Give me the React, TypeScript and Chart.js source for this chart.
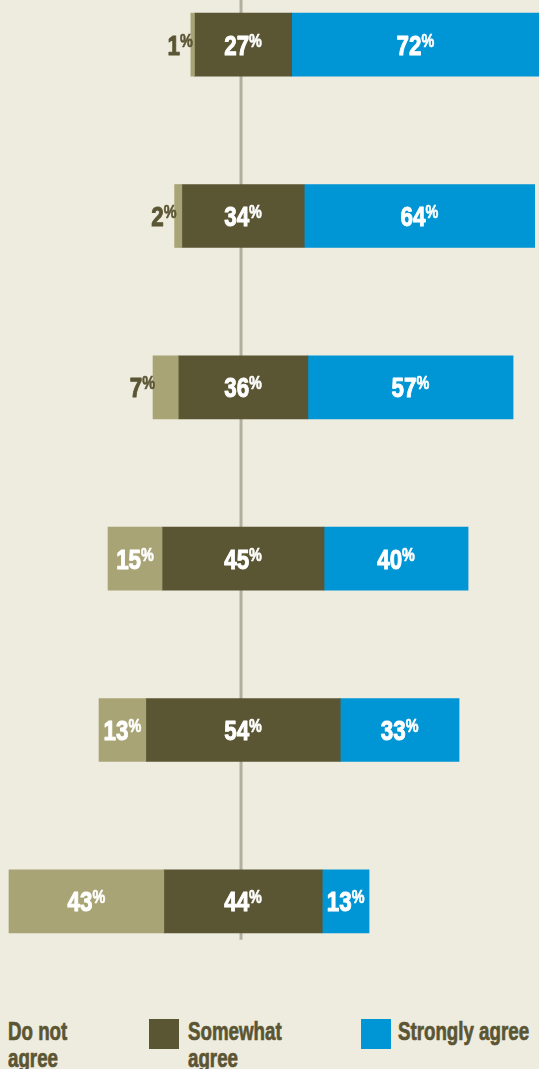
import React, { useEffect, useRef } from "react";
import { Chart, registerables } from "chart.js";

Chart.register(...registerables);

const categories = ["Statement 1", "Statement 2", "Statement 3", "Statement 4", "Statement 5", "Statement 6"];
const doNotAgree = [1, 2, 7, 15, 13, 43];
const somewhatAgree = [27, 34, 36, 45, 54, 44];
const stronglyAgree = [72, 64, 57, 40, 33, 13];
const seriesNames = ["Do not agree", "Somewhat agree", "Strongly agree"];
const seriesColors = ["#a9a476", "#5a5533", "#0095d4"];

const BG = "#eeebdf";
const TEXT = "#5a5533";
const LINE = "#b2af9f";
const FONT = "'Liberation Sans', Arial, sans-serif";
const SQUEEZE = 0.8;

const W = 539;
const H = 1069;

export default function App() {
  const ref = useRef<HTMLCanvasElement | null>(null);

  useEffect(() => {
    const canvas = ref.current;
    if (!canvas) return;
    document.body.style.margin = "0";
    document.body.style.background = BG;

    const values = [doNotAgree, somewhatAgree, stronglyAgree];
    const ranges = [
      doNotAgree.map((d, i) => [-(somewhatAgree[i] / 2 + d), -somewhatAgree[i] / 2]),
      somewhatAgree.map((s) => [-s / 2, s / 2]),
      stronglyAgree.map((a, i) => [somewhatAgree[i] / 2, somewhatAgree[i] / 2 + a]),
    ];

    const centerLine = {
      id: "centerLine",
      beforeDatasetsDraw(chart: any) {
        const { ctx, scales } = chart;
        const x = scales.x.getPixelForValue(0) - 2;
        const yEnd = scales.y.getPixelForValue(categories.length - 1) + 31.5 + 7;
        ctx.save();
        ctx.strokeStyle = LINE;
        ctx.lineWidth = 3;
        ctx.beginPath();
        ctx.moveTo(x, 0);
        ctx.lineTo(x, yEnd);
        ctx.stroke();
        ctx.restore();
      },
    };

    const labels = {
      id: "barLabels",
      afterDatasetsDraw(chart: any) {
        const { ctx, chartArea } = chart;
        chart.data.datasets.forEach((_ds: any, di: number) => {
          const meta = chart.getDatasetMeta(di);
          meta.data.forEach((el: any, i: number) => {
            const v = values[di][i];
            const { x, base, y } = el.getProps(["x", "base", "y"], true);
            const l = Math.max(Math.min(x, base), chartArea.left);
            const r = Math.min(Math.max(x, base), chartArea.right);
            const num = String(v);
            const bigFont = `bold 28px ${FONT}`;
            const smallFont = `bold 18px ${FONT}`;
            ctx.save();
            ctx.font = bigFont;
            const w1 = ctx.measureText(num).width * SQUEEZE;
            ctx.font = smallFont;
            const w2 = ctx.measureText("%").width * SQUEEZE;
            const total = w1 + w2;
            let sx: number;
            let color: string;
            if (v < 10) {
              sx = l - total + 2;
              color = TEXT;
            } else {
              sx = (l + r) / 2 - total / 2;
              color = "#ffffff";
            }
            ctx.fillStyle = color;
            ctx.strokeStyle = color;
            ctx.lineWidth = 1;
            ctx.lineJoin = "round";
            ctx.textAlign = "left";
            ctx.textBaseline = "alphabetic";
            ctx.translate(sx, y);
            ctx.scale(SQUEEZE, 1);
            ctx.font = bigFont;
            ctx.fillText(num, 0, 10);
            ctx.strokeText(num, 0, 10);
            ctx.font = smallFont;
            ctx.fillText("%", w1 / SQUEEZE, 2);
            ctx.lineWidth = 0.6;
            ctx.strokeText("%", w1 / SQUEEZE, 2);
            ctx.restore();
          });
        });
      },
    };

    const chart = new Chart(canvas, {
      type: "bar",
      data: {
        labels: categories,
        datasets: seriesNames.map((name, di) => ({
          label: name,
          data: ranges[di] as any,
          backgroundColor: seriesColors[di],
          borderWidth: 0,
          borderSkipped: false,
          barThickness: 63,
          grouped: false,
        })),
      },
      options: {
        indexAxis: "y",
        animation: false,
        responsive: false,
        maintainAspectRatio: false,
        devicePixelRatio: 1,
        layout: { padding: 0 },
        plugins: {
          legend: { display: false },
          tooltip: { enabled: false },
        },
        scales: {
          x: { type: "linear", min: -67.5, max: 82.2, display: false },
          y: { type: "category", display: false, offset: true },
        },
      },
      plugins: [centerLine, labels],
    });
    return () => chart.destroy();
  }, []);

  const legendText: React.CSSProperties = {
    position: "absolute",
    top: 1018,
    fontFamily: FONT,
    fontWeight: "bold",
    fontSize: 26,
    lineHeight: "26.5px",
    color: TEXT,
    WebkitTextStroke: `0.7px ${TEXT}`,
    transform: "scaleX(0.72)",
    transformOrigin: "0 0",
  };
  const swatch: React.CSSProperties = {
    position: "absolute",
    top: 1019,
    width: 30,
    height: 30,
  };

  return (
    <div
      style={{
        position: "absolute",
        left: 0,
        top: 0,
        width: W,
        height: H,
        background: BG,
        overflow: "hidden",
      }}
    >
      <canvas
        ref={ref}
        width={W}
        height={1028}
        style={{ position: "absolute", left: 0, top: -41, width: W, height: 1028 }}
      />
      <div style={{ ...legendText, left: 8, width: 100 }}>{seriesNames[0]}</div>
      <div style={{ ...swatch, left: 149, background: seriesColors[1] }} />
      <div style={{ ...legendText, left: 188, width: 140 }}>{seriesNames[1]}</div>
      <div style={{ ...swatch, left: 361, background: seriesColors[2] }} />
      <div style={{ ...legendText, left: 398, whiteSpace: "nowrap" }}>{seriesNames[2]}</div>
    </div>
  );
}
